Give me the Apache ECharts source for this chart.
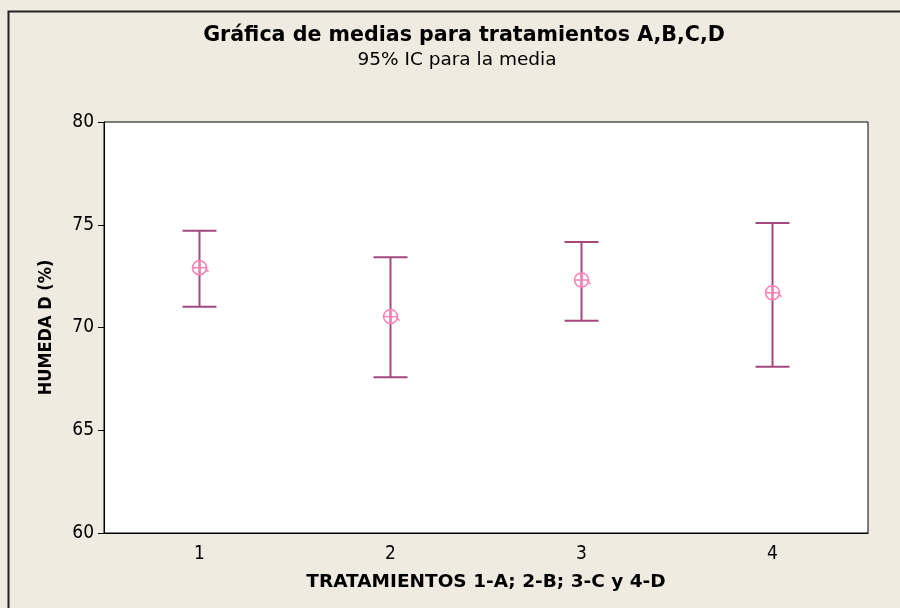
<!DOCTYPE html>
<html>
<head>
<meta charset="utf-8">
<script src="https://cdn.jsdelivr.net/npm/echarts@6/dist/echarts.min.js"></script>
<style>
html,body{margin:0;padding:0;background:#EFEBE1;}
#c{width:900px;height:608px;}
</style>
</head>
<body>
<div id="c"></div>
<script>
var categories = ['1', '2', '3', '4'];
var means = [72.91, 70.53, 72.31, 71.69];
var lower = [71.01, 67.58, 70.33, 68.09];
var upper = [74.71, 73.42, 74.16, 75.09];
var yTicks = [60, 65, 70, 75, 80];

var FONT = '"DejaVu Sans Condensed", "DejaVu Sans", sans-serif';
var WIDE = '"DejaVu Sans", sans-serif';
var barColor = '#A4487C';
var markColor = '#FF7FB2';

var data = categories.map(function (c, i) {
  return [i, lower[i], upper[i], means[i]];
});

var chart = echarts.init(document.getElementById('c'));
chart.setOption({
  backgroundColor: '#EFEBE1',
  animation: false,
  title: [{
    text: 'Gráfica de medias para tratamientos A,B,C,D',
    left: 459, top: 20, textAlign: 'center',
    textStyle: {fontFamily: WIDE, fontWeight: 'bold', fontSize: 20.6, color: '#000'}
  }, {
    text: '95% IC para la media',
    left: 452, top: 46, textAlign: 'center',
    textStyle: {fontFamily: WIDE, fontWeight: 'normal', fontSize: 18.5, color: '#000'}
  }],
  graphic: [{
    type: 'rect', left: 6, top: 9, silent: true,
    shape: {width: 1000, height: 1000},
    style: {fill: 'none', stroke: '#222', lineWidth: 2}
  }],
  grid: {
    left: 104, right: 32, top: 122, bottom: 75,
    show: true, backgroundColor: '#fff', borderColor: '#000', borderWidth: 1
  },
  xAxis: {
    type: 'category', data: categories, boundaryGap: true,
    name: 'TRATAMIENTOS 1-A; 2-B; 3-C y 4-D',
    nameLocation: 'middle', nameGap: 40,
    nameTextStyle: {fontFamily: WIDE, fontWeight: 'bold', fontSize: 18.5, color: '#000'},
    axisLine: {lineStyle: {color: '#000', width: 1}},
    axisTick: {alignWithLabel: true, length: 6, lineStyle: {color: '#000'}},
    axisLabel: {fontFamily: FONT, fontSize: 19, color: '#000', margin: 12},
    splitLine: {show: false}
  },
  yAxis: {
    type: 'value', min: yTicks[0], max: yTicks[yTicks.length - 1], interval: 5,
    name: 'HUMEDA D (%)',
    nameLocation: 'middle', nameGap: 49,
    nameTextStyle: {fontFamily: FONT, fontWeight: 'bold', fontSize: 18, color: '#000'},
    axisLine: {show: true, lineStyle: {color: '#000', width: 1}},
    axisTick: {show: true, length: 6, lineStyle: {color: '#000'}},
    axisLabel: {fontFamily: FONT, fontSize: 19, color: '#000', margin: 10},
    splitLine: {show: false}
  },
  series: [{
    type: 'custom',
    data: data,
    encode: {x: 0, y: [1, 2, 3]},
    renderItem: function (params, api) {
      var x = api.value(0);
      var lo = api.coord([x, api.value(1)]);
      var hi = api.coord([x, api.value(2)]);
      var m = api.coord([x, api.value(3)]);
      var hw = 17, r = 7;
      var bs = {stroke: barColor, lineWidth: 2};
      var ms = {stroke: markColor, lineWidth: 1.5, fill: 'none'};
      return {
        type: 'group',
        children: [
          {type: 'line', shape: {x1: lo[0], y1: lo[1], x2: hi[0], y2: hi[1]}, style: bs},
          {type: 'line', shape: {x1: lo[0] - hw, y1: lo[1], x2: lo[0] + hw, y2: lo[1]}, style: bs},
          {type: 'line', shape: {x1: hi[0] - hw, y1: hi[1], x2: hi[0] + hw, y2: hi[1]}, style: bs},
          {type: 'circle', shape: {cx: m[0], cy: m[1], r: r}, style: {stroke: markColor, lineWidth: 1.5, fill: 'rgba(255,255,255,0)'}},
          {type: 'line', shape: {x1: m[0] - r, y1: m[1], x2: m[0] + r, y2: m[1]}, style: ms},
          {type: 'line', shape: {x1: m[0], y1: m[1] - r, x2: m[0], y2: m[1] + r}, style: ms},
          {type: 'line', shape: {x1: m[0] + r - 1, y1: m[1] + 1, x2: m[0] + r + 2, y2: m[1] + 4}, style: ms}
        ]
      };
    }
  }]
});
</script>
</body>
</html>
